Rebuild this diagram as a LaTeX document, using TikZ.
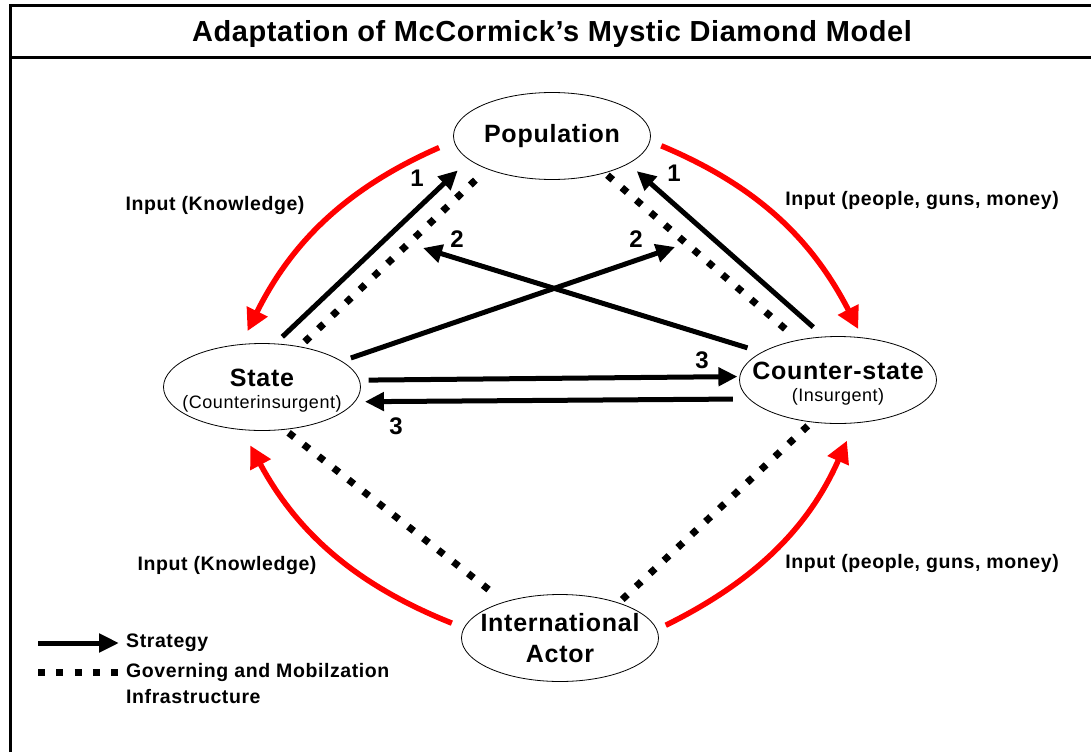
\documentclass[tikz,border=0pt]{standalone}
\usepackage{fontspec}
\setmainfont{Liberation Sans}[LetterSpace=3]
\newfontfamily\titlefont{Liberation Sans}[LetterSpace=2]
\usetikzlibrary{arrows.meta,shapes.geometric}
\tikzset{
 ell/.style={ellipse, draw, line width=0.8pt, minimum width=197pt, minimum height=87pt, inner sep=0pt},
 big/.style={font=\bfseries\fontsize{25}{28}\selectfont, inner sep=0pt},
 small/.style={font=\fontsize{18}{21}\selectfont, inner sep=0pt},
 lab/.style={font=\bfseries\fontsize{19.5}{22}\selectfont, inner sep=0pt},
 num/.style={font=\bfseries\fontsize{24}{27}\selectfont, inner sep=0pt},
 strat/.style={line width=5pt, -{Triangle[length=19pt,width=18pt]}},
 infra/.style={line width=7pt, dash pattern=on 7pt off 12pt},
 inp/.style={line width=5.5pt, red, -{Triangle[length=22pt,width=22pt]}},
}
\begin{document}
\begin{tikzpicture}[x=1pt,y=-1pt]
\useasboundingbox (0,0) rectangle (1091,752);
% frame
\draw[line width=3pt] (10,752) -- (10,6) -- (1091,6);
\draw[line width=3pt] (10,58) -- (1091,58);
\node[font=\titlefont\bfseries\fontsize{29}{32}\selectfont] (title) at (552,34) {Adaptation of McCormick’s Mystic Diamond Model};
% nodes
\node[ell] (pop) at (552,136) {};
\node[big] (popt) at (552,136) {Population};
\node[ell] (state) at (262,387) {};
\node[big] (statet) at (262,378) {State};
\node[small] (statesub) at (262,404) {(Counterinsurgent)};
\node[ell] (cs) at (838,380) {};
\node[big] (cst) at (838,371) {Counter-state};
\node[small] (cssub) at (838,397) {(Insurgent)};
\node[ell] (ia) at (560,638) {};
\node[big] (iat) at (560,623) {International};
\node[big] (iat2) at (560,654) {Actor};
% strategy and infrastructure
\coordinate (t2l) at (423,248);
\coordinate (t2r) at (675,247);
\draw[strat, shorten <=9.7pt, shorten >=15.4pt] (state.73.9) -- (pop.196.6);
\draw[infra, shorten <=6.8pt, shorten >=7.2pt] (state.47.7) -- (pop.207.9);
\draw[strat, shorten <=14.7pt] (cs.160.4) -- (t2l);
\draw[strat, shorten <=9.6pt] (state.18.2) -- (t2r);
\draw[strat, shorten <=14.2pt, shorten >=11pt] (cs.108.7) -- (pop.340.6);
\draw[infra, shorten <=3.3pt, shorten >=6pt] (pop.325.1) -- (cs.135.7);
\draw[strat, shorten <=8.9pt, shorten >=2pt] (state.4.9) -- (cs.178.9);
\draw[strat, shorten <=16pt, shorten >=9.8pt] (cs.192.6) -- (state.351.2);
\draw[infra, shorten <=5pt, shorten >=9pt] (state.298.8) -- (ia.147.6);
\draw[infra, shorten <=4.8pt, shorten >=4.2pt] (ia.31.5) -- (cs.238.1);
% inputs
\draw[inp, shorten <=16pt, shorten >=14.5pt] (pop.183.5) to[bend right=20] (state.116.1);
\draw[inp, shorten <=12pt, shorten >=9.5pt] (pop.357.9) to[bend left=20] (cs.60.8);
\draw[inp, shorten <=12.8pt, shorten >=17.5pt] (ia.174.8) to[bend left=20] (state.245);
\draw[inp, shorten <=9.7pt, shorten >=19pt] (ia.5.3) to[bend right=20] (cs.291.8);
% labels
\node[lab] (l1) at (215,205) {Input (Knowledge)};
\node[lab] (l2) at (922,200) {Input (people, guns, money)};
\node[lab] (l3) at (227,565) {Input (Knowledge)};
\node[lab] (l4) at (922,563) {Input (people, guns, money)};
\node[num] (n1a) at (417,178) {1};
\node[num] (n1b) at (674,173) {1};
\node[num] (n2a) at (457,239) {2};
\node[num] (n2b) at (636,239) {2};
\node[num] (n3a) at (702,360) {3};
\node[num] (n3b) at (396,426) {3};
% legend
\coordinate (ls0) at (38,643);
\coordinate (ls1) at (119,643);
\coordinate (li0) at (38,672);
\coordinate (li1) at (118.2,672);
\draw[line width=5pt, -{Triangle[length=20pt,width=18pt]}] (ls0) -- (ls1);
\draw[line width=7pt, dash pattern=on 7pt off 11.3pt] (li0) -- (li1);
\node[lab, anchor=west] (lstr) at (126,643) {Strategy};
\node[lab, anchor=west] (linf) at (126,672) {Governing and Mobilzation};
\node[lab, anchor=west] (linf2) at (126,697) {Infrastructure};
\end{tikzpicture}
\end{document}
